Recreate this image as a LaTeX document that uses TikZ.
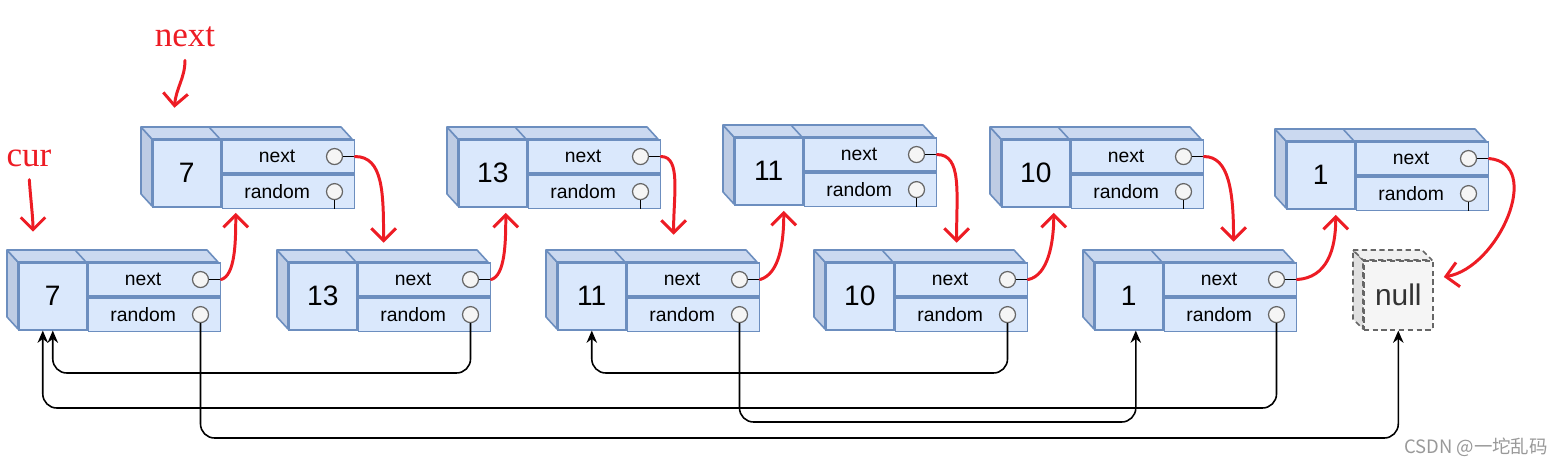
\documentclass[tikz,border=0pt]{standalone}
\usepackage{fontspec}
\setmainfont{Liberation Sans}
\newfontfamily\handfont{Liberation Serif}
\newfontfamily\cjkfont{Noto Sans CJK SC}
\usepackage{tikz}
\usetikzlibrary{positioning,arrows.meta}
\definecolor{myblue}{RGB}{218,232,252}
\definecolor{mytop}{RGB}{203,217,240}
\definecolor{myside}{RGB}{190,204,228}
\definecolor{myedge}{RGB}{108,142,191}
\definecolor{myred}{RGB}{237,28,36}
\definecolor{mygray}{RGB}{245,245,245}

\tikzset{
  boxface/.style={fill=#1, draw=myedge, line width=0.9pt, line join=round},
  valcell/.style={draw=myedge, fill=myblue, line width=0.9pt, minimum width=1.36cm, minimum height=1.34cm, inner sep=0pt, font=\fontsize{16}{19}\selectfont},
  fieldcell/.style={draw=myedge, fill=myblue, line width=0.9pt, minimum width=2.64cm, minimum height=0.67cm, inner sep=0pt, font=\fontsize{11}{13}\selectfont},
  ptr/.style={circle, draw=black!60, fill=mygray, line width=0.7pt, minimum size=0.32cm, inner sep=0pt},
  nullcell/.style={draw=black!60, dashed, dash pattern=on 3pt off 2pt, fill=mygray, line width=0.9pt, minimum size=1.38cm, inner sep=0pt, text=black!80, font=\fontsize{17}{20}\selectfont},
  randptr/.style={draw=black, line width=0.9pt, rounded corners=8pt, -{Stealth[length=7pt,width=6pt]}},
  hand/.style={draw=myred, line width=1.7pt, line cap=round, line join=round, shorten >=3pt, -{Straight Barb[length=7pt,width=14pt]}},
  hlabel/.style={text=myred, font=\handfont\fontsize{20}{24}\selectfont},
}

% name, x, y (front top-left), value
\newcommand{\listnode}[4]{%
  \draw[boxface=myside] (#2-11,#3-12) -- (#2,#3) -- (#2,#3+67) -- (#2-11,#3+55) -- cycle;
  \draw[boxface=mytop] (#2-11,#3-12) -- (#2+189,#3-12) -- (#2+200,#3) -- (#2,#3) -- cycle;
  \draw[myedge, line width=0.9pt] (#2+57,#3-12) -- (#2+68,#3);
  \node[valcell, anchor=north west] (#1-v) at (#2,#3) {#4};
  \node[fieldcell, anchor=north west] (#1-n) at (#1-v.north east) {next\kern0.45cm};
  \node[fieldcell, anchor=north west] (#1-r) at (#1-n.south west) {random\kern0.45cm};
  \node[ptr, left=0.24cm of #1-n.east] (#1-nc) {};
  \node[ptr, left=0.24cm of #1-r.east] (#1-rc) {};
  \draw[line width=0.7pt] (#1-nc) -- (#1-n.east);
  \draw[line width=0.7pt] (#1-rc) -- (#1-rc |- #1-r.south);
}

\begin{document}
\begin{tikzpicture}[x=0.02cm, y=-0.02cm]
    \useasboundingbox (0,0) rectangle (1563,467);
    % copied list
    \listnode{t7}{152}{139}{7}
    \listnode{t13}{458}{139}{13}
    \listnode{t11}{734}{137}{11}
    \listnode{t10}{1001}{139}{10}
    \listnode{t1}{1286}{141}{1}
    % original list
    \listnode{b7}{18}{262}{7}
    \listnode{b13}{288}{262}{13}
    \listnode{b11}{557}{262}{11}
    \listnode{b10}{825}{262}{10}
    \listnode{b1}{1094}{262}{1}
    % null
    \draw[boxface=black!12, draw=black!60, dash pattern=on 3pt off 2pt] (1353,250) -- (1363,260) -- (1363,329) -- (1353,319) -- cycle;
    \draw[boxface=black!6, draw=black!60, dash pattern=on 3pt off 2pt] (1353,250) -- (1422,250) -- (1432,260) -- (1363,260) -- cycle;
    \node[nullcell, anchor=north west] (nul) at (1363,260) {null};

    % random pointers
    \draw[randptr] (b13-rc.south) -- (b13-rc.south |- 0,373) -| (b7-v.south);
    \draw[randptr] (b7-rc.south) -- (b7-rc.south |- 0,438) -| (nul.south);
    \draw[randptr] (b1-rc.south) -- (b1-rc.south |- 0,408) -| ([xshift=-0.2cm]b7-v.south);
    \draw[randptr] (b11-rc.south) -- (b11-rc.south |- 0,422) -| ([xshift=0.14cm]b1-v.south);
    \draw[randptr] (b10-rc.south) -- (b10-rc.south |- 0,373) -| (b11-v.south);

    % next pointers, by hand
    \draw[hand] (b7-n.east) .. controls +(14,-4) and +(0,35) .. ([xshift=0.98cm]t7-v.south);
    \draw[hand] (t7-n.east) .. controls +(28,0) and +(0,-55) .. ([xshift=0.52cm,yshift=0.28cm]b13-v.north east);
    \draw[hand] (b13-n.east) .. controls +(14,-4) and +(0,35) .. ([xshift=0.26cm]t13-v.south);
    \draw[hand] (t13-n.east) .. controls +(20,0) and +(0,-45) .. ([xshift=0.94cm,yshift=0.44cm]b11-v.north east);
    \draw[hand] (b11-n.east) .. controls +(20,-6) and +(0,35) .. ([xshift=0.3cm]t11-v.south);
    \draw[hand] (t11-n.east) .. controls +(25,0) and +(0,-55) .. ([xshift=1.24cm,yshift=0.28cm]b10-v.north east);
    \draw[hand] (b10-n.east) .. controls +(20,-4) and +(0,35) .. ([xshift=0.36cm]t10-v.south);
    \draw[hand] (t10-n.east) .. controls +(25,0) and +(0,-55) .. ([xshift=1.4cm,yshift=0.3cm]b1-v.north east);
    \draw[hand] (b1-n.east) .. controls +(30,-2) and +(0,40) .. ([xshift=0.3cm]t1-v.south);
    \draw[hand] (t1-n.east) .. controls +(55,5) and +(60,-10) .. ([xshift=0.1cm,yshift=0.35cm]nul.east);

    \node[hlabel] (lblnext) at (185,37) {next};
    \node[hlabel] (lblcur) at (29,158) {cur};
    \coordinate (nextpt) at (174,113);
    \coordinate (curpt) at (33,237);
    \draw[hand, shorten <=4pt] (lblnext.south) .. controls +(0,25) and +(2,-25) .. (nextpt);
    \draw[hand, shorten <=4pt] (lblcur.south) .. controls +(1,20) and +(0,-20) .. (curpt);

    \node[text=black!40, font=\cjkfont\fontsize{10.5}{12}\selectfont] (csdn) at (1476,447) {CSDN @一坨乱码};
\end{tikzpicture}
\end{document}
